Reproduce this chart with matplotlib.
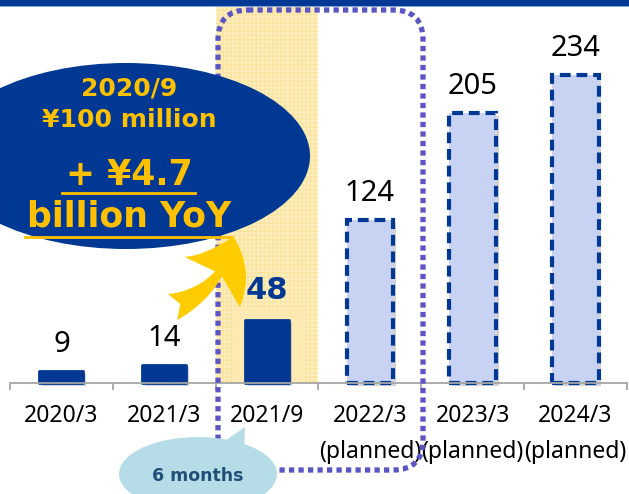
import matplotlib
matplotlib.use('Agg')

import matplotlib.pyplot as plt
import matplotlib.patheffects as pe
from matplotlib.patches import Ellipse, FancyBboxPatch, FancyArrowPatch, Polygon, Rectangle
from matplotlib.transforms import Affine2D

# Sales by fiscal period (¥100 million)
periods = ["2020/3", "2021/3", "2021/9", "2022/3", "2023/3", "2024/3"]
values = [9, 14, 48, 124, 205, 234]
planned = [False, False, False, True, True, True]
highlight = 2  # half-year period that gets the yellow band

NAVY = "#003893"
GOLD = "#ffc000"
PURPLE = "#5b55c3"
PLAN_FILL = "#c8d2f3"

W, H = 629, 494
YTOP = 291
fig = plt.figure(figsize=(W / 100, H / 100), dpi=100)
ax = fig.add_axes([0, 0, 1, 1])
ax.set_xlim(-0.597, 5.521)
ax.set_ylim(-84.3, YTOP)
ax.set_facecolor("white")

# pixel coordinates with origin at the top-left corner, for the decorations
px = Affine2D().scale(1 / W, -1 / H).translate(0, 1) + fig.transFigure

num_font = "Noto Sans"

# highlighted column
ax.add_patch(Rectangle((highlight - 0.5, 0), 1, YTOP,
                       facecolor="#fdf0c4", edgecolor="#fbe3a0", hatch="++++",
                       linewidth=0, zorder=0))
ax.add_patch(Rectangle((highlight - 0.33, 0), 0.7, values[highlight] + 9,
                       facecolor="#fdeab2", edgecolor="none", zorder=0.5))

# bars
shadow = [pe.SimplePatchShadow(offset=(2, -2), shadow_rgbFace="gray", alpha=0.35),
          pe.Normal()]
x = list(range(len(periods)))
for i, (v, p) in enumerate(zip(values, planned)):
    if p:
        b = ax.bar(i, v, width=0.45, color=PLAN_FILL, edgecolor=NAVY,
                   linewidth=3, linestyle=(0, (2.6, 1.4)), zorder=3)
    else:
        b = ax.bar(i, v, width=0.43, color=NAVY, edgecolor=NAVY,
                   linewidth=2, joinstyle="round", zorder=3)
    b[0].set_path_effects(shadow)

# value labels
for i, v in enumerate(values):
    if i == highlight:
        ax.annotate(str(v), (i, v), xytext=(0, 21), textcoords="offset points",
                    ha="center", va="center", fontsize=22, fontweight="bold",
                    color=NAVY, family="DejaVu Sans", zorder=5)
    else:
        ax.annotate(str(v), (i, v), xytext=(0, 19), textcoords="offset points",
                    ha="center", va="center", fontsize=21, color="black",
                    family=num_font, zorder=5)

# axis
for s in ["left", "right", "top"]:
    ax.spines[s].set_visible(False)
ax.spines["bottom"].set_position(("data", 0))
ax.spines["bottom"].set_bounds(-0.5, len(periods) - 0.5)
ax.spines["bottom"].set_color("#a6a6a6")
ax.spines["bottom"].set_linewidth(1.3)
ax.spines["bottom"].set_zorder(4)
ax.set_yticks([])
ax.set_xticks(x)
ax.set_xticklabels([f"{p}\n(planned)" if pl else p for p, pl in zip(periods, planned)],
                   fontsize=16.5, family=num_font, linespacing=1.65)
ax.set_xticks([i - 0.5 for i in range(len(periods) + 1)], minor=True)
ax.tick_params(axis="x", which="major", length=0, pad=15)
ax.tick_params(axis="x", which="minor", length=5, width=1.3, color="#a6a6a6", direction="out")

# header strip
fig.patches.append(Rectangle((0, 0), W, 6, transform=px, facecolor=NAVY,
                             edgecolor="none", zorder=10))
fig.patches.append(Rectangle((0, 6), W, 1.2, transform=px, facecolor="#7fa6dd",
                             edgecolor="none", zorder=10))

# dotted outline around the half-year and first planned periods
ax.add_patch(FancyBboxPatch((218, 10), 205, 460, transform=px,
                            boxstyle="round,pad=0,rounding_size=30",
                            facecolor="none", edgecolor=PURPLE, linewidth=3.8,
                            linestyle=(0, (1, 0.8)), capstyle="butt", zorder=6))

# "6 months" callout
ax.add_patch(Polygon([(216, 447), (245, 427), (244, 452)], closed=True, transform=px,
                     facecolor="#b6dde7", edgecolor="none", zorder=7))
ax.add_patch(Ellipse((198, 474), 158, 74, transform=px,
                     facecolor="#b6dde7", edgecolor="none", zorder=7))
ax.text(198, 476, "6 months", transform=px, ha="center", va="center",
        fontsize=12.5, fontweight="bold", color="#1f4e79", zorder=8)

# growth bubble
ax.add_patch(Ellipse((126, 156), 368, 186, transform=px,
                     facecolor=NAVY, edgecolor="none", zorder=8))
ax.text(129, 88, "2020/9", transform=px, ha="center", va="center",
        fontsize=18, fontweight="bold", color=GOLD, zorder=9)
ax.text(129, 120, "¥100 million", transform=px, ha="center", va="center",
        fontsize=18, fontweight="bold", color=GOLD, zorder=9)
ax.text(129, 175, "+ ¥4.7", transform=px, ha="center", va="center",
        fontsize=25, fontweight="bold", color=GOLD, zorder=9)
ax.text(129, 216, "billion YoY", transform=px, ha="center", va="center",
        fontsize=25, fontweight="bold", color=GOLD, zorder=9)
ax.plot([62, 195], [193, 193], transform=px, color=GOLD, linewidth=2, zorder=9)
ax.plot([25, 232], [237, 237], transform=px, color=GOLD, linewidth=2, zorder=9)

# growth arrow pointing into the highlighted column
ax.add_patch(FancyArrowPatch((170, 308), (234, 234), transform=px,
                             arrowstyle="fancy,head_length=1.0,head_width=1.5,tail_width=0.55",
                             connectionstyle="arc3,rad=0.3", mutation_scale=36,
                             facecolor="#ffcc00", edgecolor="none", zorder=9))

plt.savefig("out.png", dpi=100)
plt.close(fig)
